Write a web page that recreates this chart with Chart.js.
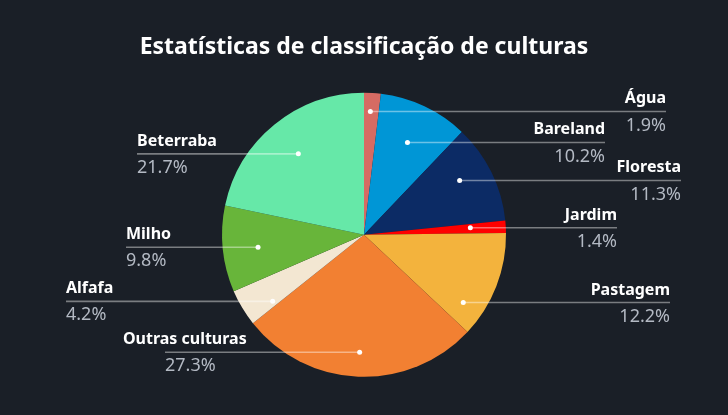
<!DOCTYPE html>
<html>
<head>
<meta charset="utf-8">
<script src="https://cdn.jsdelivr.net/npm/chart.js@4"></script>
<style>
  html, body { margin: 0; padding: 0; background: #1a1f27; }
  #wrap { width: 728px; height: 415px; }
</style>
</head>
<body>
<div id="wrap"><canvas id="pieChart" width="728" height="415"></canvas></div>
<script>
// Crop classification shares (%), clockwise from 12 o'clock
const categories = ['Água', 'Bareland', 'Floresta', 'Jardim', 'Pastagem', 'Outras culturas', 'Alfafa', 'Milho', 'Beterraba'];
const shares = [1.9, 10.2, 11.3, 1.4, 12.2, 27.3, 4.2, 9.8, 21.7];
const sliceColors = ['#d66b63', '#0096d6', '#0c2b65', '#ff0000', '#f3b33d', '#f28032', '#f3e7d2', '#68b53a', '#66e8a8'];

const FONT = "'Noto Sans', 'Open Sans', sans-serif";

// draws the outside labels with horizontal leader lines
const leaderLabels = {
  id: 'leaderLabels',
  afterDatasetsDraw(chart, args, opts) {
    const ctx = chart.ctx;
    const meta = chart.getDatasetMeta(0);
    const items = meta.data.map((arc, i) => {
      const mid = (arc.startAngle + arc.endAngle) / 2;
      const R = arc.outerRadius;
      return {
        i, arc, mid, R,
        cx: arc.x, cy: arc.y,
        right: Math.cos(mid) >= 0,
        y: arc.y + Math.sin(mid) * R * 0.87 + (opts.nudge[i] || 0)
      };
    });

    // keep labels apart on each side
    [true, false].forEach(side => {
      const group = items.filter(it => it.right === side).sort((a, b) => a.y - b.y);
      for (let k = 1; k < group.length; k++) {
        if (group[k].y - group[k - 1].y < 31) group[k].y = group[k - 1].y + 31;
      }
    });

    items.forEach(it => {
      const dy = it.y - it.cy;
      let r = Math.abs(Math.sin(it.mid)) > 0.05 ? dy / Math.sin(it.mid) : it.R * 0.75;
      r = Math.max(it.R * 0.5, Math.min(it.R * 0.75, r));
      const dotX = it.cx + Math.cos(it.mid) * r;
      const reach = opts.reach[it.i];
      const endX = it.right ? it.cx + reach : it.cx - reach;

      ctx.save();
      ctx.strokeStyle = 'rgba(255,255,255,0.42)';
      ctx.lineWidth = 1.6;
      ctx.beginPath();
      ctx.moveTo(dotX, it.y);
      ctx.lineTo(endX, it.y);
      ctx.stroke();

      ctx.fillStyle = '#ffffff';
      ctx.beginPath();
      ctx.arc(dotX, it.y, 2.5, 0, Math.PI * 2);
      ctx.fill();

      // name: keep it clear of the pie edge
      ctx.font = 'bold 16px ' + FONT;
      const w = ctx.measureText(categories[it.i]).width;
      const topDy = Math.abs(it.y - 20 - it.cy);
      const edge = topDy < it.R ? Math.sqrt(it.R * it.R - topDy * topDy) : 0;
      let nameX = endX;
      if (it.right) {
        const minLeft = it.cx + edge + 14;
        if (nameX - w < minLeft) nameX = minLeft + w;
      } else {
        const maxRight = it.cx - edge - 14;
        if (nameX + w > maxRight) nameX = maxRight - w;
      }
      ctx.textAlign = it.right ? 'right' : 'left';
      ctx.textBaseline = 'alphabetic';
      ctx.fillStyle = '#ffffff';
      ctx.fillText(categories[it.i], nameX, it.y - 8);

      ctx.font = '18px ' + FONT;
      ctx.fillStyle = '#b3b9c3';
      ctx.textBaseline = 'top';
      ctx.fillText(shares[it.i].toFixed(1) + '%', endX, it.y + 5);
      ctx.restore();
    });
  }
};

new Chart(document.getElementById('pieChart'), {
  type: 'pie',
  data: {
    labels: categories,
    datasets: [{
      data: shares,
      backgroundColor: sliceColors,
      borderWidth: 0,
      radius: 142
    }]
  },
  options: {
    responsive: false,
    animation: false,
    layout: { padding: { top: 0, bottom: 8, left: 0, right: 0 } },
    plugins: {
      legend: { display: false },
      tooltip: { enabled: false },
      title: {
        display: true,
        text: 'Estatísticas de classificação de culturas',
        color: '#ffffff',
        font: { family: FONT, size: 23, weight: 'bold', lineHeight: 1.2 },
        padding: { top: 34, bottom: 1 }
      },
      leaderLabels: {
        // horizontal distance from the pie centre to the label edge
        reach: [302, 241, 317, 253, 306, 199, 298, 238, 227],
        // vertical adjustment of the label row
        nudge: [0, 0, 0, 0, 23, -6, 3, 0, 15]
      }
    }
  },
  plugins: [leaderLabels]
});
</script>
</body>
</html>
